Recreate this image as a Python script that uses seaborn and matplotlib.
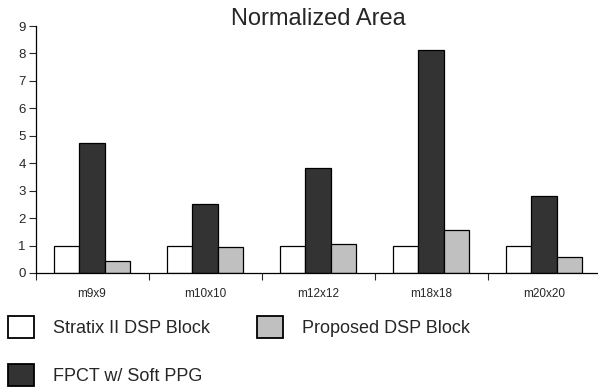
import pandas as pd
import matplotlib
matplotlib.use("Agg")
import matplotlib.pyplot as plt
import seaborn as sns
from matplotlib.patches import Patch
from matplotlib.ticker import FixedLocator

# data
sizes = ["m9x9", "m10x10", "m12x12", "m18x18", "m20x20"]
stratix = [1.0, 1.0, 1.0, 1.0, 1.0]
fpct = [4.75, 2.52, 3.84, 8.13, 2.81]
proposed = [0.43, 0.95, 1.05, 1.58, 0.57]
series = ["Stratix II DSP Block", "FPCT w/ Soft PPG", "Proposed DSP Block"]
colors = ["#ffffff", "#333333", "#c0c0c0"]

df = pd.DataFrame({
    "size": sizes * 3,
    "value": stratix + fpct + proposed,
    "series": [series[0]] * 5 + [series[1]] * 5 + [series[2]] * 5,
})

sns.set_style("white")
plt.rcParams["font.family"] = ["Liberation Sans", "DejaVu Sans"]

fig = plt.figure(figsize=(5.98, 3.92), dpi=100)
ax = fig.add_axes([35.5 / 598, 0.3036, 565 / 598, 0.63])

sns.barplot(data=df, x="size", y="value", hue="series", hue_order=series,
            palette=colors, edgecolor="black", linewidth=0.9, width=0.68,
            saturation=1, ax=ax, legend=False)

ax.set_ylim(0, 9)
ax.set_xlim(-0.5, 4.5)
ax.set_yticks(range(0, 10))
ax.tick_params(axis="y", length=5, width=0.8, labelsize=9.5, pad=2, left=True)
ax.tick_params(axis="x", which="major", length=0, labelsize=8.5, pad=11)
ax.xaxis.set_minor_locator(FixedLocator([-0.5, 0.5, 1.5, 2.5, 3.5]))
ax.tick_params(axis="x", which="minor", length=5, width=0.8, bottom=True, direction="out")
ax.set_xlabel("")
ax.set_ylabel("")
ax.set_title("Normalized Area", fontsize=17, pad=1)

sns.despine(ax=ax, top=True, right=True)
for s in ["left", "bottom"]:
    ax.spines[s].set_color("black")
    ax.spines[s].set_linewidth(0.9)

handles = [Patch(facecolor=colors[0], edgecolor="black", linewidth=1.3, label=series[0]),
           Patch(facecolor=colors[1], edgecolor="black", linewidth=1.3, label=series[1]),
           Patch(facecolor=colors[2], edgecolor="black", linewidth=1.3, label=series[2])]
fig.legend(handles=handles, ncol=2, loc="upper left", bbox_to_anchor=(8 / 598, 1 - 316 / 392),
           frameon=False, fontsize=13, handlelength=1.45, handleheight=1.5,
           handletextpad=1.05, columnspacing=2.6, labelspacing=1.45, borderpad=0,
           borderaxespad=0)

fig.savefig("out.png", dpi=100)
